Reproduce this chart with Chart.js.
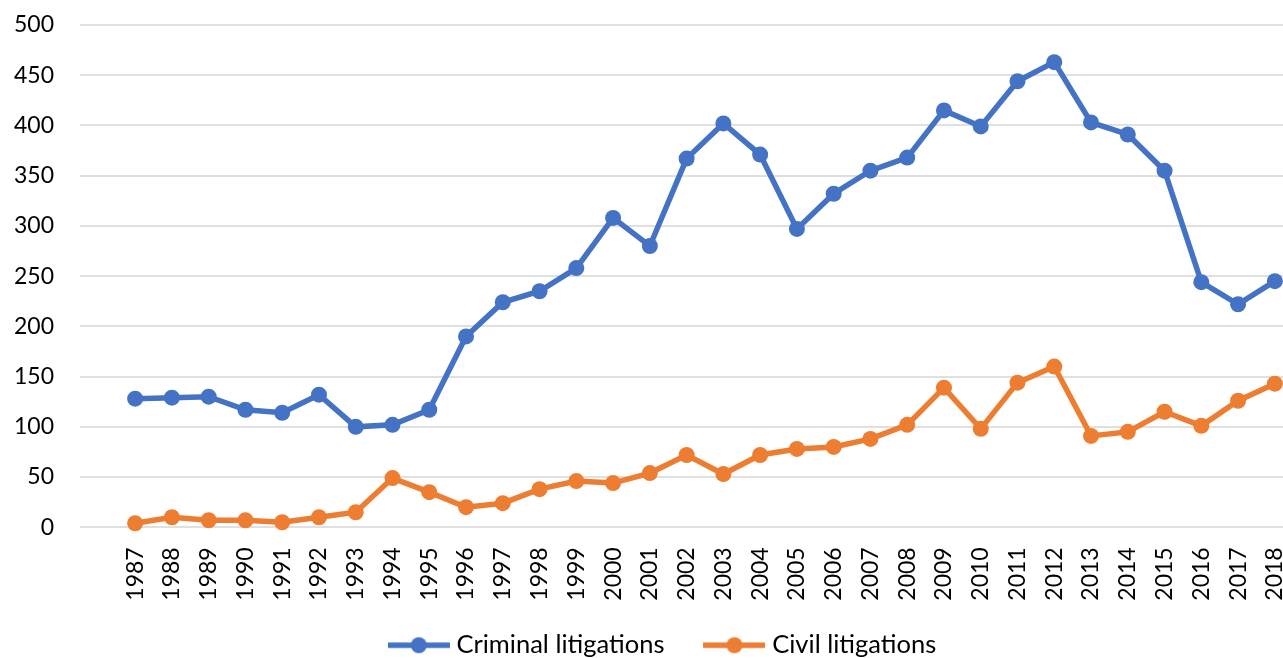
<!DOCTYPE html>
<html>
<head>
<meta charset="utf-8">
<script src="https://cdn.jsdelivr.net/npm/chart.js@4.4.1/dist/chart.umd.min.js"></script>
<style>
  html, body { margin: 0; padding: 0; background: #fff; overflow: hidden; }
  #wrap { width: 1283px; height: 658px; overflow: hidden; position: relative; }
  canvas { display: block; }
</style>
</head>
<body>
<div id="wrap"><canvas id="c" width="1340" height="668" style="width:1340px;height:668px"></canvas></div>
<script>
const years = [1987,1988,1989,1990,1991,1992,1993,1994,1995,1996,1997,1998,1999,2000,2001,2002,2003,2004,2005,2006,2007,2008,2009,2010,2011,2012,2013,2014,2015,2016,2017,2018];
const criminal = [128,129,130,117,114,132,100,102,117,190,224,235,258,308,280,367,402,371,297,332,355,368,415,399,444,463,403,391,355,244,222,245];
const civil = [4,10,7,7,5,10,15,49,35,20,24,38,46,44,54,72,53,72,78,80,88,102,139,98,144,160,91,95,115,101,126,143];
const yTicks = [0,50,100,150,200,250,300,350,400,450,500];
const seriesNames = ['Criminal litigations', 'Civil litigations'];
const colors = ['#4472C4', '#ED7D31'];

const FONT = 'Lato';

function legendIcon(color) {
  const c = document.createElement('canvas');
  c.width = 62; c.height = 20;
  const ctx = c.getContext('2d');
  ctx.strokeStyle = color;
  ctx.lineWidth = 5.5;
  ctx.beginPath(); ctx.moveTo(0, 10); ctx.lineTo(62, 10); ctx.stroke();
  ctx.fillStyle = color;
  ctx.beginPath(); ctx.arc(31, 10, 8, 0, Math.PI * 2); ctx.fill();
  return c;
}
const icons = colors.map(legendIcon);

function makeDataset(name, vals, color) {
  return {
    label: name,
    data: years.map((y, i) => ({x: y, y: vals[i]})),
    borderColor: color,
    backgroundColor: color,
    borderWidth: 5.5,
    pointRadius: 8,
    pointHoverRadius: 8,
    pointBorderWidth: 0,
    pointBackgroundColor: color,
    tension: 0,
    clip: false
  };
}

new Chart(document.getElementById('c'), {
  type: 'line',
  data: {
    datasets: [
      makeDataset(seriesNames[0], criminal, colors[0]),
      makeDataset(seriesNames[1], civil, colors[1])
    ]
  },
  options: {
    responsive: false,
    animation: false,
    devicePixelRatio: 1,
    layout: { padding: { top: 25, left: 0, right: 10, bottom: 0 } },
    plugins: {
      tooltip: { enabled: false },
      legend: {
        position: 'bottom',
        labels: {
          font: { family: FONT, size: 25.5 },
          color: '#000',
          usePointStyle: true,
          pointStyleWidth: 50,
          padding: 45,
          generateLabels: (chart) => chart.data.datasets.map((ds, i) => ({
            text: ds.label,
            fillStyle: ds.borderColor,
            strokeStyle: ds.borderColor,
            lineWidth: 0,
            pointStyle: icons[i],
            datasetIndex: i,
            hidden: false,
            fontColor: '#000'
          }))
        }
      }
    },
    scales: {
      x: {
        type: 'linear',
        min: 1985.5,
        max: 2019.5,
        afterBuildTicks: (scale) => { scale.ticks = years.map(v => ({ value: v })); },
        afterFit: (scale) => {
          scale.height = 60.2;
          scale.paddingLeft = 0;
          scale.paddingRight = 0;
          scale._computeLabelArea = () => undefined;
        },
        grid: { display: false, drawTicks: false },
        border: { display: false },
        ticks: {
          autoSkip: false,
          minRotation: 90,
          maxRotation: 90,
          padding: 20,
          font: { family: FONT, size: 23 },
          color: '#000',
          callback: (v) => String(v)
        }
      },
      y: {
        min: 0,
        max: 500,
        afterBuildTicks: (scale) => { scale.ticks = yTicks.map(v => ({ value: v })); },
        afterFit: (scale) => {
          scale.width = 80;
          scale.paddingTop = 0;
          scale.paddingBottom = 0;
        },
        grid: { color: '#e0e0e0', lineWidth: 2, drawTicks: false },
        border: { display: false },
        ticks: {
          padding: 26,
          font: { family: FONT, size: 23 },
          color: '#000',
          callback: (v) => String(v)
        }
      }
    }
  }
});
</script>
</body>
</html>
